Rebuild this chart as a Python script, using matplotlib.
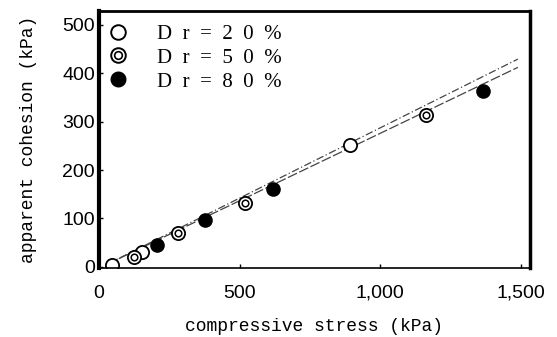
import matplotlib
matplotlib.use("Agg")
import matplotlib.pyplot as plt
from matplotlib.lines import Line2D
from matplotlib.legend_handler import HandlerTuple

# data
dr20_x = [45, 152, 893]
dr20_y = [4, 31, 251]
dr50_x = [124, 280, 518, 1163]
dr50_y = [21, 70, 132, 313]
dr80_x = [206, 376, 620, 1365]
dr80_y = [45, 97, 161, 363]

# the two fitted trend lines (start / end)
fit_x = [30, 1490]
fit_upper = [6, 429]
fit_lower = [6, 412]

xticks = [0, 500, 1000, 1500]
xtick_labels = ["0", "500", "1,000", "1,500"]
yticks = [0, 100, 200, 300, 400, 500]
legend_labels = ["D  r  =  2  0  %", "D  r  =  5  0  %", "D  r  =  8  0  %"]

fig = plt.figure(figsize=(5.57, 3.37), dpi=100)
ax = fig.add_axes([0.178, 0.205, 0.773, 0.762])

ax.plot(fit_x, fit_upper, linestyle=(0, (6, 2, 1, 2)), color="#444444", lw=0.9)
ax.plot(fit_x, fit_lower, linestyle=(0, (8, 2)), color="#444444", lw=0.9)

ms = 9.5
ax.plot(dr20_x, dr20_y, "o", ms=ms, mfc="white", mec="black", mew=1.3, ls="none")
ax.plot(dr50_x, dr50_y, "o", ms=ms, mfc="white", mec="black", mew=1.3, ls="none")
ax.plot(dr50_x, dr50_y, "o", ms=ms * 0.5, mfc="white", mec="black", mew=1.1, ls="none")
ax.plot(dr80_x, dr80_y, "o", ms=ms, mfc="black", mec="black", ls="none")

h20 = Line2D([], [], marker="o", ms=10.5, mfc="white", mec="black", mew=1.4, ls="none")
h50a = Line2D([], [], marker="o", ms=10.5, mfc="white", mec="black", mew=1.4, ls="none")
h50b = Line2D([], [], marker="o", ms=5.5, mfc="white", mec="black", mew=1.2, ls="none")
h80 = Line2D([], [], marker="o", ms=10.5, mfc="black", mec="black", ls="none")
ax.legend([h20, (h50a, h50b), h80], legend_labels,
          handler_map={tuple: HandlerTuple(ndivide=1)},
          loc="upper left", bbox_to_anchor=(-0.015, 1.005), frameon=False,
          prop={"family": "Liberation Serif", "size": 15},
          handlelength=1.0, handletextpad=1.4, labelspacing=0.2,
          borderpad=0.2)

ax.set_xlim(0, 1532)
ax.set_ylim(-2, 528)
ax.set_xticks(xticks)
ax.set_xticklabels(xtick_labels)
ax.set_yticks(yticks)
ax.tick_params(direction="in", length=3, width=1, labelsize=14, pad=3)
ax.tick_params(axis="x", pad=12)

for lab in ax.get_xticklabels() + ax.get_yticklabels():
    lab.set_family("Liberation Sans")

ax.spines["left"].set_linewidth(3)
ax.spines["bottom"].set_linewidth(1.2)
ax.spines["top"].set_linewidth(2)
ax.spines["right"].set_linewidth(2.5)

ax.set_xlabel("compressive stress (kPa)", family="Liberation Mono", fontsize=13, labelpad=12)
ax.set_ylabel("apparent cohesion (kPa)", family="Liberation Mono", fontsize=13, labelpad=18)

fig.savefig("out.png", dpi=100)
